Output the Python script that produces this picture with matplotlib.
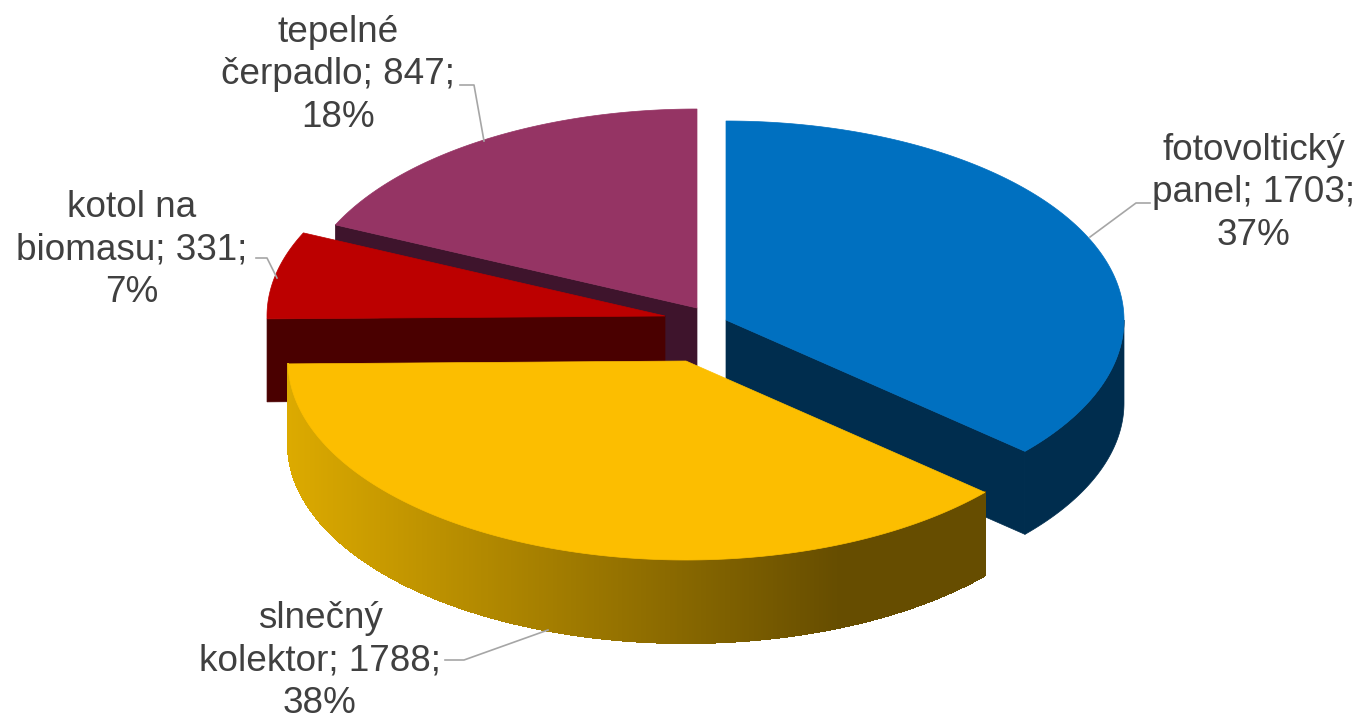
import numpy as np
import matplotlib
matplotlib.use('Agg')
import matplotlib.pyplot as plt
from matplotlib.colors import to_rgb
from matplotlib.patches import Polygon
from matplotlib.collections import PolyCollection

plt.rcParams['font.family'] = ['Liberation Sans', 'DejaVu Sans']

# clockwise from 12 o'clock, same order as the sheet
categories = ['fotovoltický\npanel', 'slnečný\nkolektor', 'kotol na\nbiomasu', 'tepelné\nčerpadlo']
values = [1703, 1788, 331, 847]
percents = [37, 38, 7, 18]  # as printed in the chart
top_colors = ['#0070c0', '#fcbe00', '#bc0000', '#953464']
side_colors = ['#002d4e', None, '#4a0000', '#3e142c']

# slice centres after explosion, pixels
centers = [(726, 320), (686, 361), (665, 316), (697, 308)]
rx, ry, depth = 398, 199, 83

# label centre and leader line
label_xy = [(1254, 193), (320, 661), (132, 250), (338, 75)]
leaders = [[(1090, 237), (1136, 203), (1150, 203)],
           [(548, 630), (464, 660), (445, 660)],
           [(277, 278), (267, 258), (256, 258)],
           [(484, 141), (474, 85), (460, 85)]]

total = sum(values)
edges = np.cumsum([0] + values) / total * 2 * np.pi


def rim(c, a):
    return np.column_stack([c[0] + rx * np.sin(a), c[1] - ry * np.cos(a)])


def side_wall(ax, p, col, z):
    d = np.array([0, depth])
    ax.add_patch(Polygon(np.vstack([p, p[::-1] + d]), closed=True, fc=col, ec=col, lw=0.5, zorder=z))


fig = plt.figure(figsize=(13.62, 7.15), dpi=100)
ax = fig.add_axes([0, 0, 1, 1])
ax.set_xlim(0, 1362)
ax.set_ylim(715, 0)
ax.axis('off')

# back to front: purple, red, blue, yellow
for z, i in enumerate([3, 2, 0, 1]):
    c = centers[i]
    a0, a1 = edges[i], edges[i + 1]
    arc = rim(c, np.linspace(a0, a1, 200))
    apex = np.array([c])

    if i == 0:
        # blue: end cut and front of the rim
        side_wall(ax, np.vstack([apex, arc[-1:]]), side_colors[i], z)
        side_wall(ax, rim(c, np.linspace(np.pi / 2, a1, 100)), side_colors[i], z)
    elif i == 1:
        # yellow rim shades left to right
        light, dark = np.array(to_rgb('#dcaa00')), np.array(to_rgb('#664d00'))
        aa = np.linspace(a0, a1, 400)
        p = rim(c, aa)
        quads, cols = [], []
        for k in range(len(aa) - 1):
            quads.append([p[k], p[k + 1], p[k + 1] + [0, depth], p[k] + [0, depth]])
            t = np.clip((p[k][0] - 288) / (840 - 288), 0, 1)
            cols.append(light + (dark - light) * t)
        ax.add_collection(PolyCollection(quads, facecolors=cols, edgecolors=cols, linewidths=0.8,
                                         antialiased=False, zorder=z))
    else:
        # red, purple: start cut faces the viewer
        side_wall(ax, np.vstack([arc[:1], apex]), side_colors[i], z)

    ax.add_patch(Polygon(np.vstack([apex, arc]), closed=True, fc=top_colors[i], ec=top_colors[i], lw=0.5, zorder=z + 0.5))

for i, name in enumerate(categories):
    first, second = name.split('\n')
    txt = f'{first}\n{second}; {values[i]};\n{percents[i]}%'
    ax.text(label_xy[i][0], label_xy[i][1], txt, ha='center', va='center', fontsize=26.6,
            color='#404040', linespacing=1.27, zorder=10)
    xs, ys = zip(*leaders[i])
    ax.plot(xs, ys, color='#a6a6a6', lw=1.2, zorder=9)

fig.savefig('out.png', dpi=100)
